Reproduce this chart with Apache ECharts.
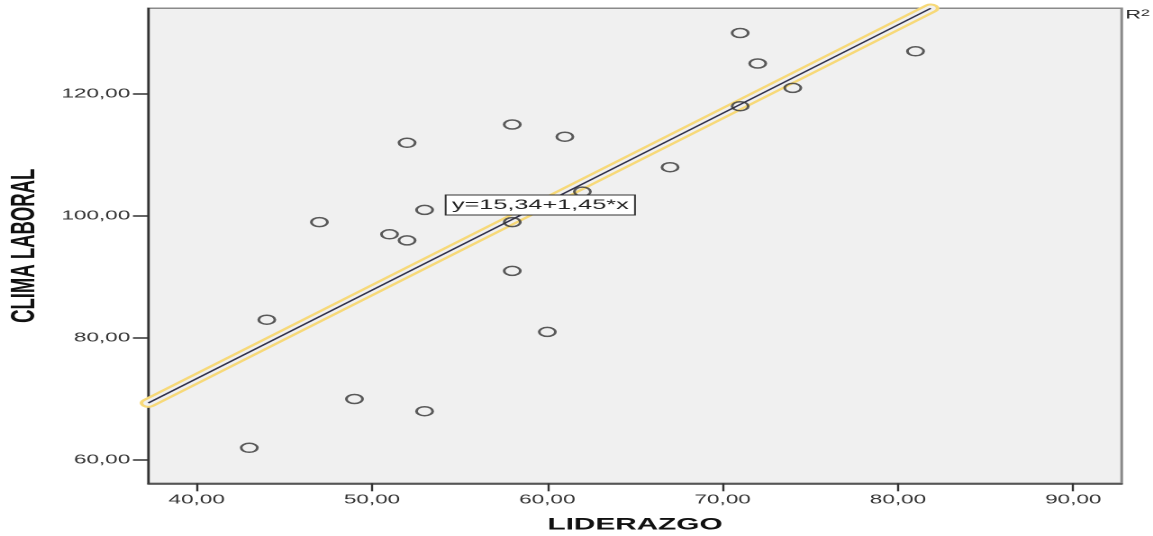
<!DOCTYPE html>
<html>
<head>
<meta charset="utf-8">
<script src="https://cdn.jsdelivr.net/npm/echarts@6/dist/echarts.min.js"></script>
<style>
  html, body { margin: 0; padding: 0; background: #fff; overflow: hidden; }
  /* the reference is a horizontally stretched SPSS picture, so draw narrow and stretch */
  #chart { width: 640px; height: 536px; transform: scaleX(1.8016); transform-origin: 0 0; }
</style>
</head>
<body>
<div id="chart"></div>
<script>
var liderazgo = [71, 72, 81, 74, 71, 58, 61, 52, 67, 62, 53, 47, 58, 51, 52, 58, 60, 44, 49, 53, 43];
var clima     = [130, 125, 127, 121, 118, 115, 113, 112, 108, 104, 101, 99, 99, 97, 96, 91, 81, 83, 70, 68, 62];
var xTicks = [40, 50, 60, 70, 80, 90];
var yTicks = [60, 80, 100, 120];
// fit line ends (y=15,34+1,45*x)
var fitLine = [[37.24, 69.34], [81.87, 134.05]];
var fitLabel = 'y=15,34+1,45*x';
var labelAt = [59.6, 101.8];

var points = liderazgo.map(function (x, i) { return [x, clima[i]]; });

var chart = echarts.init(document.getElementById('chart'), null, { devicePixelRatio: 2 });

var tickFont = { color: '#333', fontSize: 12.5, fontFamily: 'Liberation Sans, Arial, sans-serif' };
var fmt = function (v) { return v.toFixed(2).replace('.', ','); };

chart.setOption({
  animation: false,
  backgroundColor: '#fff',
  grid: {
    show: true,
    left: 82.3,
    right: 17.4,
    top: 8.3,
    bottom: 52.7,
    containLabel: false,
    outerBoundsMode: 'none',
    backgroundColor: '#f0f0f0',
    borderColor: '#8a8a8a',
    borderWidth: 1.5
  },
  xAxis: {
    type: 'value',
    min: 37.24,
    max: 92.76,
    name: 'LIDERAZGO',
    nameLocation: 'middle',
    nameGap: 33,
    nameTextStyle: { color: '#111', fontSize: 16.5, fontWeight: 'bold', fontFamily: 'Liberation Sans, Arial, sans-serif' },
    axisLine: { lineStyle: { color: '#444', width: 1.5 } },
    axisTick: { show: true, length: 8, customValues: xTicks, lineStyle: { color: '#333', width: 1.2 } },
    axisLabel: Object.assign({ margin: 10, customValues: xTicks, formatter: fmt }, tickFont),
    splitLine: { show: false }
  },
  yAxis: {
    type: 'value',
    min: 56.18,
    max: 134.05,
    name: 'CLIMA LABORAL',
    nameLocation: 'middle',
    nameGap: 58,
    nameRotate: 90,
    nameTextStyle: { color: '#111', fontSize: 18.5, fontWeight: 'bold', fontFamily: 'Liberation Sans Narrow, Arial Narrow, Liberation Sans, sans-serif' },
    axisLine: { lineStyle: { color: '#333', width: 1.2 } },
    axisTick: { show: true, length: 8.5, customValues: yTicks, lineStyle: { color: '#333', width: 1.5 } },
    axisLabel: Object.assign({ margin: 10, customValues: yTicks, formatter: fmt }, tickFont),
    splitLine: { show: false }
  },
  series: [
    {
      type: 'line',
      data: fitLine,
      symbol: 'none',
      clip: false,
      silent: true,
      z: 1,
      lineStyle: { color: '#f7d978', width: 9.6, cap: 'round' }
    },
    {
      type: 'line',
      data: fitLine,
      symbol: 'none',
      clip: false,
      silent: true,
      z: 2,
      lineStyle: { color: '#f0f0f0', width: 5.6, cap: 'round' }
    },
    {
      type: 'line',
      data: fitLine,
      symbol: 'none',
      clip: false,
      silent: true,
      z: 3,
      lineStyle: { color: '#30304a', width: 1.3 },
      markPoint: {
        symbol: 'rect',
        symbolSize: 1,
        itemStyle: { color: 'transparent' },
        label: {
          show: true,
          position: 'inside',
          formatter: fitLabel,
          color: '#222',
          fontSize: 14,
          fontFamily: 'Liberation Sans, Arial, sans-serif',
          backgroundColor: '#fff',
          borderColor: '#333',
          borderWidth: 1,
          padding: [3, 3, 2, 3]
        },
        data: [{ coord: labelAt }]
      }
    },
    {
      type: 'scatter',
      data: points,
      symbol: 'circle',
      symbolSize: 9,
      z: 4,
      itemStyle: { color: 'transparent', borderColor: '#333', borderWidth: 1.5 }
    }
  ],
  graphic: [
    {
      type: 'text',
      left: 624.6,
      top: 9,
      style: {
        text: '{r|R}{s|2}',
        fill: '#222',
        fontFamily: 'Liberation Sans, Arial, sans-serif',
        rich: {
          r: { fontSize: 12, verticalAlign: 'bottom', fill: '#222' },
          s: { fontSize: 9, verticalAlign: 'top', fill: '#222' }
        }
      }
    }
  ]
});
</script>
</body>
</html>
